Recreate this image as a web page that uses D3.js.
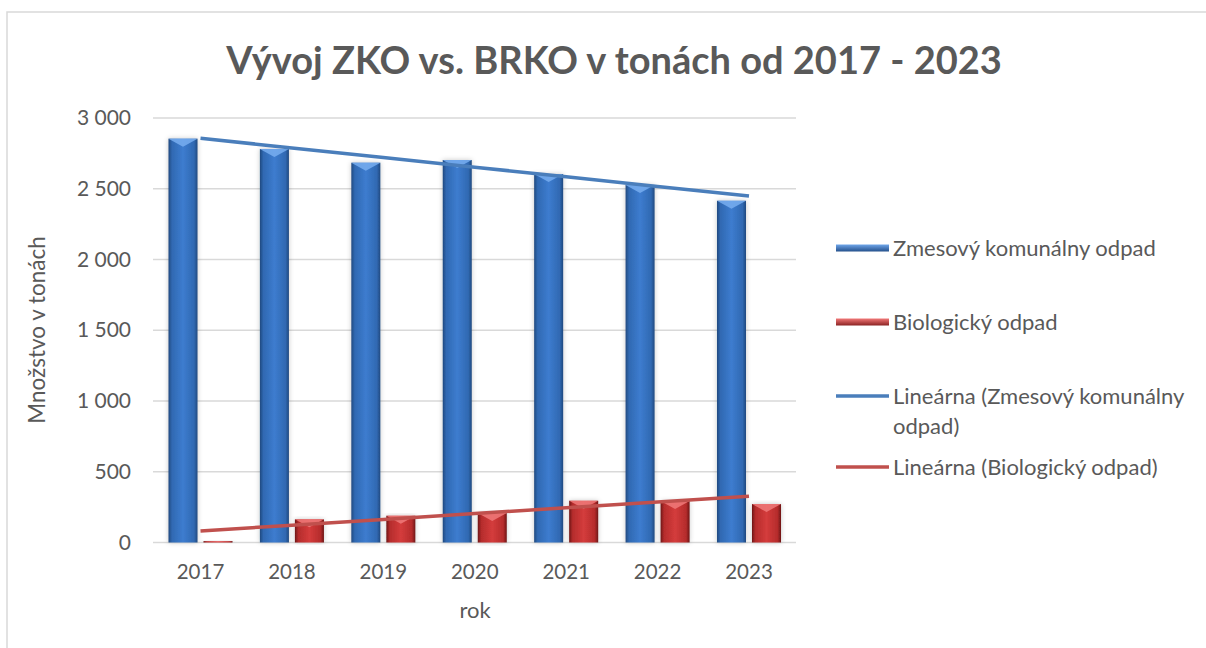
<!DOCTYPE html>
<html>
<head>
<meta charset="utf-8">
<script src="https://cdn.jsdelivr.net/npm/d3@7"></script>
<style>
  body { margin: 0; background: #fff; }
  svg { display: block; font-family: Lato, "Open Sans", sans-serif; }
</style>
</head>
<body>
<svg id="chart" width="1206" height="648"></svg>
<script>
var years = ["2017", "2018", "2019", "2020", "2021", "2022", "2023"]
var zko = [2854, 2781, 2684, 2703, 2604, 2527, 2415]
var brko = [10, 164, 189, 208, 295, 293, 272]
var yTicks = [0, 500, 1000, 1500, 2000, 2500, 3000]
var seriesNames = ["Zmesový komunálny odpad", "Biologický odpad"]
var trendNames = ["Lineárna (Zmesový komunálny odpad)", "Lineárna (Biologický odpad)"]

var svg = d3.select("#chart")
var textColor = "#595959"

// outer frame
svg.append("rect").attr("x", 7).attr("y", 12).attr("width", 1300).attr("height", 700)
  .attr("fill", "none").attr("stroke", "#d9d9d9").attr("stroke-width", 1.5)

var x = d3.scaleBand().domain(years).range([154.8, 794.7]).padding(0)
var x1 = d3.scaleBand().domain(["zko", "brko"]).range([0, x.bandwidth()]).paddingInner(0.171).paddingOuter(0.391)
var y = d3.scaleLinear().domain([0, 3000]).range([542.5, 118])

// gradients for the bevelled bars
var defs = svg.append("defs")
function makeGrad(id, dark, mid, light) {
  var g = defs.append("linearGradient").attr("id", id).attr("x1", "0").attr("x2", "1").attr("y1", "0").attr("y2", "0")
  g.append("stop").attr("offset", "0").attr("stop-color", dark)
  g.append("stop").attr("offset", "0.12").attr("stop-color", mid)
  g.append("stop").attr("offset", "0.5").attr("stop-color", light)
  g.append("stop").attr("offset", "0.88").attr("stop-color", mid)
  g.append("stop").attr("offset", "1").attr("stop-color", dark)
}
makeGrad("gBlue", "#21497f", "#3069b2", "#3d7ccf")
makeGrad("gRed", "#6e1616", "#b52c2c", "#d43c3c")
var lg = defs.append("linearGradient").attr("id", "lBlue").attr("x1", "0").attr("x2", "0").attr("y1", "0").attr("y2", "1")
lg.append("stop").attr("offset", "0").attr("stop-color", "#6fa6ea")
lg.append("stop").attr("offset", "1").attr("stop-color", "#24508c")
var lr = defs.append("linearGradient").attr("id", "lRed").attr("x1", "0").attr("x2", "0").attr("y1", "0").attr("y2", "1")
lr.append("stop").attr("offset", "0").attr("stop-color", "#f27878")
lr.append("stop").attr("offset", "1").attr("stop-color", "#8a2222")
var sh = defs.append("filter").attr("id", "shadow").attr("x", "-30%").attr("y", "-10%").attr("width", "160%").attr("height", "120%")
sh.append("feDropShadow").attr("dx", 0).attr("dy", 0).attr("stdDeviation", 2.5).attr("flood-color", "#000").attr("flood-opacity", 0.22)

// gridlines
svg.append("g").selectAll("line").data(yTicks).enter().append("line")
  .attr("x1", 153).attr("x2", 796)
  .attr("y1", function(d) { return y(d) }).attr("y2", function(d) { return y(d) })
  .attr("stroke", "#d9d9d9").attr("stroke-width", 1.5)

// y labels
var yAxis = d3.axisLeft(y).tickValues(yTicks).tickSize(0).tickPadding(0)
  .tickFormat(function(d) { return d3.format(",")(d).replace(",", " ") })
var ya = svg.append("g").attr("transform", "translate(131,0)").call(yAxis)
ya.select(".domain").remove()
ya.selectAll("text").attr("fill", textColor).attr("font-size", "21px").attr("font-family", "Lato")

// x labels
var xAxis = d3.axisBottom(x).tickSize(0).tickPadding(0)
var xa = svg.append("g").attr("transform", "translate(0,564)").call(xAxis)
xa.select(".domain").remove()
xa.selectAll("text").attr("fill", textColor).attr("font-size", "20.5px").attr("font-family", "Lato")

// bars
function drawBars(values, key, grad, topColor) {
  var g = svg.append("g")
  var bar = g.selectAll("g").data(values).enter().append("g")
    .attr("transform", function(d, i) { return "translate(" + (x(years[i]) + x1(key)) + ",0)" })
  var w = x1.bandwidth()
  bar.append("rect").attr("x", 0).attr("width", w)
    .attr("y", function(d) { return y(d) }).attr("height", function(d) { return y(0) - y(d) })
    .attr("fill", "url(#" + grad + ")").attr("filter", "url(#shadow)")
  // top bevel
  bar.append("path").attr("d", function(d) {
      var t = y(d), h = Math.min(8, (y(0) - t) / 2)
      return "M0," + t + "L" + w + "," + t + "L" + (w / 2) + "," + (t + h) + "Z"
    }).attr("fill", topColor).attr("opacity", 0.85)
}
drawBars(zko, "zko", "gBlue", "#78aef0")
drawBars(brko, "brko", "gRed", "#f07a7a")

// linear trendlines
function trend(values) {
  var mx = d3.mean(values, function(d, i) { return i }), my = d3.mean(values)
  var num = d3.sum(values, function(d, i) { return (i - mx) * (d - my) })
  var den = d3.sum(values, function(d, i) { return (i - mx) * (i - mx) })
  var b = num / den, a = my - b * mx
  return values.map(function(d, i) { return [i, a + b * i] })
}
var line = d3.line()
  .x(function(d) { return x(years[d[0]]) + x.bandwidth() / 2 })
  .y(function(d) { return y(d[1]) })
svg.append("path").datum(trend(zko)).attr("d", line).attr("fill", "none").attr("stroke", "#4a7ebb").attr("stroke-width", 3.5)
svg.append("path").datum(trend(brko)).attr("d", line).attr("fill", "none").attr("stroke", "#c0504d").attr("stroke-width", 3.5)

// title + axis titles
svg.append("text").text("Vývoj ZKO vs. BRKO v tonách od 2017 - 2023")
  .attr("x", 614).attr("y", 74).attr("text-anchor", "middle").attr("font-size", "38px").attr("font-weight", "bold").attr("fill", textColor)
svg.append("text").text("Množstvo v tonách")
  .attr("transform", "translate(45,330) rotate(-90)").attr("text-anchor", "middle").attr("font-size", "22.5px").attr("fill", textColor)
svg.append("text").text("rok")
  .attr("x", 475).attr("y", 618).attr("text-anchor", "middle").attr("font-size", "22px").attr("fill", textColor)

// legend
var leg = svg.append("g").attr("transform", "translate(836,0)")
var legBars = [{ name: seriesNames[0], grad: "lBlue", y: 248 }, { name: seriesNames[1], grad: "lRed", y: 322 }]
leg.selectAll("rect.sw").data(legBars).enter().append("rect").attr("class", "sw")
  .attr("x", 0).attr("y", function(d) { return d.y - 3.5 }).attr("width", 53).attr("height", 7)
  .attr("fill", function(d) { return "url(#" + d.grad + ")" })
leg.selectAll("text.sw").data(legBars).enter().append("text").attr("class", "sw")
  .attr("x", 57).attr("y", function(d) { return d.y }).attr("dy", "0.35em")
  .attr("font-size", "22px").attr("fill", textColor).text(function(d) { return d.name })

var legLines = [{ lines: ["Lineárna (Zmesový komunálny", "odpad)"], color: "#4a7ebb", y: 396 },
                { lines: ["Lineárna (Biologický odpad)"], color: "#c0504d", y: 467 }]
leg.selectAll("line.tr").data(legLines).enter().append("line").attr("class", "tr")
  .attr("x1", 0).attr("x2", 53).attr("y1", function(d) { return d.y }).attr("y2", function(d) { return d.y })
  .attr("stroke", function(d) { return d.color }).attr("stroke-width", 3.5)
legLines.forEach(function(d) {
  d.lines.forEach(function(t, k) {
    leg.append("text").attr("x", 57).attr("y", d.y + k * 30).attr("dy", "0.35em")
      .attr("font-size", "22px").attr("fill", textColor).text(t)
  })
})
</script>
</body>
</html>
